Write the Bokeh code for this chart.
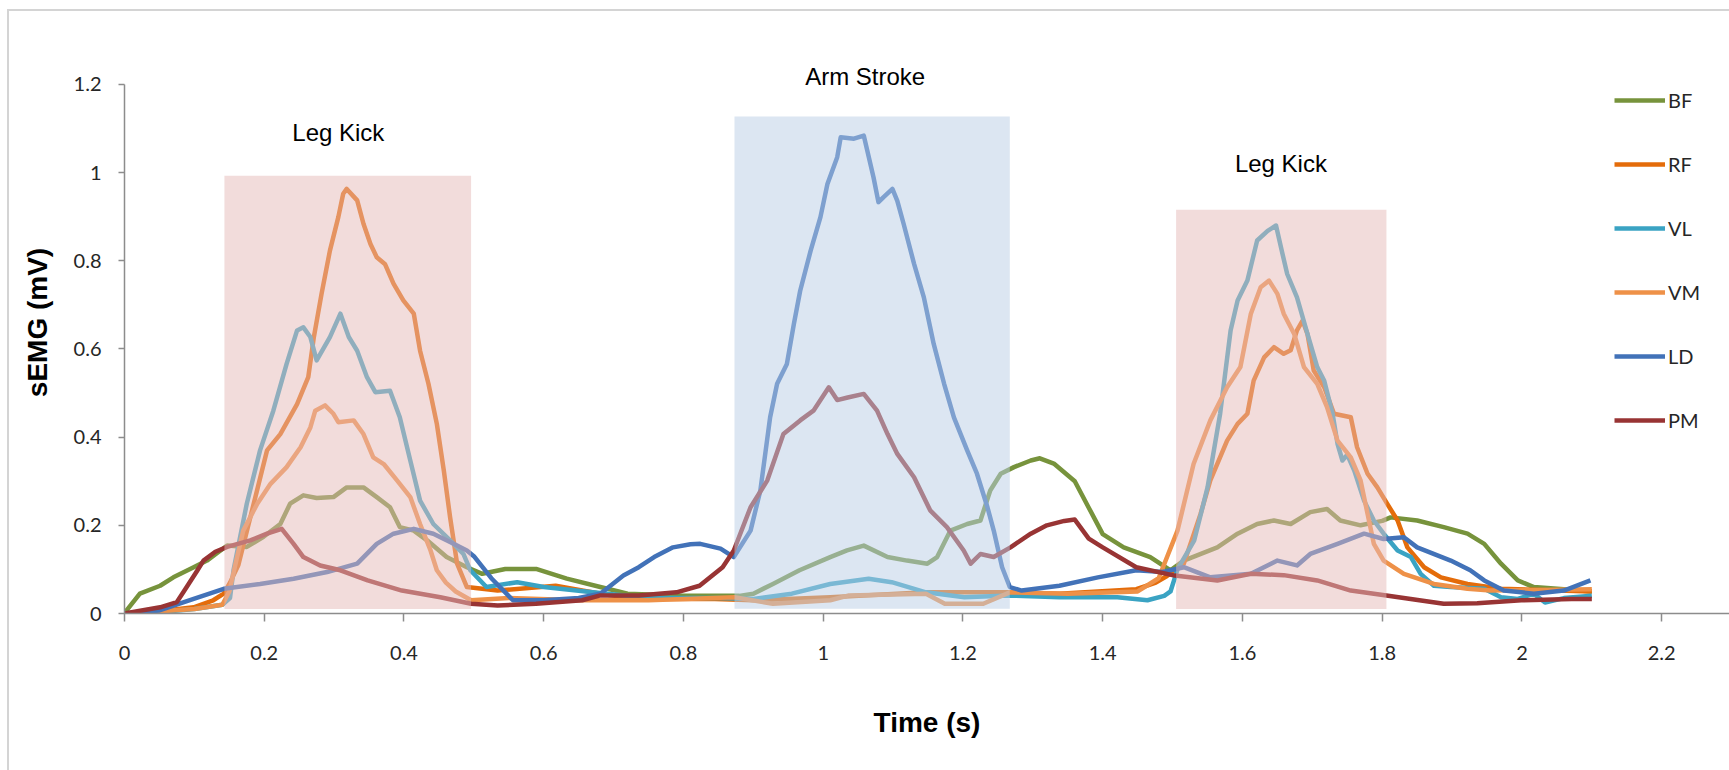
from bokeh.plotting import figure
from bokeh.models import Range1d, FixedTicker, Legend, LegendItem, Label
from bokeh.embed import file_html
from bokeh.resources import INLINE

# ---------------- data ----------------
SERIES = ["BF", "RF", "VL", "VM", "LD", "PM"]

BF_T = [0, 0.003, 0.022, 0.051, 0.07, 0.099, 0.118, 0.135, 0.147, 0.175, 0.199, 0.223, 0.237, 0.256,
        0.275, 0.299, 0.318, 0.342, 0.361, 0.38, 0.394, 0.414, 0.433, 0.461, 0.49, 0.512, 0.545, 0.589,
        0.633, 0.681, 0.72, 0.8, 0.88, 0.9, 0.928, 0.966, 1.01, 1.034, 1.058, 1.092, 1.12, 1.149, 1.163,
        1.182, 1.206, 1.225, 1.239, 1.254, 1.273, 1.297, 1.31, 1.33, 1.36, 1.38, 1.40, 1.43, 1.468, 1.497,
        1.516, 1.564, 1.593, 1.621, 1.645, 1.669, 1.697, 1.721, 1.74, 1.769, 1.80, 1.812, 1.85, 1.888,
        1.922, 1.946, 1.97, 1.994, 2.017, 2.06, 2.1]
BF_V = [0, 0.007, 0.045, 0.063, 0.082, 0.105, 0.12, 0.14, 0.154, 0.151, 0.174, 0.203, 0.249, 0.268,
        0.262, 0.264, 0.286, 0.286, 0.264, 0.241, 0.196, 0.188, 0.166, 0.128, 0.105, 0.09, 0.101, 0.101,
        0.079, 0.06, 0.045, 0.04, 0.04, 0.045, 0.067, 0.098, 0.128, 0.143, 0.154, 0.128, 0.12, 0.113, 0.128,
        0.188, 0.203, 0.211, 0.279, 0.317, 0.332, 0.347, 0.352, 0.34, 0.30, 0.24, 0.18, 0.15, 0.128, 0.098,
        0.12, 0.15, 0.181, 0.203, 0.211, 0.203, 0.23, 0.237, 0.211, 0.2, 0.21, 0.218, 0.211, 0.196,
        0.181, 0.158, 0.113, 0.075, 0.06, 0.055, 0.05]

RF_T = [0, 0.05, 0.099, 0.127, 0.142, 0.151, 0.163, 0.204, 0.223, 0.247, 0.263, 0.271, 0.282, 0.294,
        0.306, 0.313, 0.318, 0.333, 0.342, 0.352, 0.361, 0.373, 0.385, 0.399, 0.414, 0.423, 0.435, 0.447,
        0.457, 0.466, 0.476, 0.49, 0.534, 0.617, 0.681, 0.736, 0.845, 0.9, 1.01, 1.147, 1.267, 1.338,
        1.448, 1.476, 1.492, 1.516, 1.54, 1.554, 1.578, 1.593, 1.607, 1.616, 1.631, 1.645, 1.659, 1.669,
        1.678, 1.686, 1.693, 1.702, 1.717, 1.731, 1.755, 1.764, 1.779, 1.793, 1.807, 1.822, 1.836, 1.86,
        1.884, 1.922, 1.97, 2.1]
RF_V = [0, 0.005, 0.014, 0.03, 0.045, 0.07, 0.11, 0.37, 0.407, 0.475, 0.536, 0.627, 0.725, 0.823,
        0.899, 0.952, 0.963, 0.937, 0.884, 0.838, 0.808, 0.792, 0.748, 0.71, 0.68, 0.596, 0.521, 0.43,
        0.324, 0.218, 0.113, 0.06, 0.052, 0.063, 0.045, 0.033, 0.033, 0.03, 0.037, 0.048, 0.048, 0.045,
        0.055, 0.07, 0.085, 0.113, 0.226, 0.302, 0.392, 0.43, 0.453, 0.528, 0.581, 0.604, 0.589, 0.597,
        0.642, 0.664, 0.634, 0.551, 0.513, 0.453, 0.445, 0.377, 0.317, 0.286, 0.249, 0.211, 0.15, 0.105,
        0.082, 0.067, 0.056, 0.05]

VL_T = [0, 0.05, 0.1, 0.14, 0.151, 0.156, 0.175, 0.194, 0.213, 0.232, 0.247, 0.256, 0.266, 0.275,
        0.294, 0.309, 0.321, 0.333, 0.347, 0.359, 0.38, 0.394, 0.409, 0.423, 0.442, 0.466, 0.485, 0.495,
        0.518, 0.562, 0.6, 0.66, 0.75, 0.85, 0.9, 0.955, 1.01, 1.065, 1.098, 1.147, 1.202, 1.267, 1.338,
        1.421, 1.464, 1.488, 1.497, 1.507, 1.531, 1.55, 1.568, 1.583, 1.593, 1.607, 1.621, 1.636, 1.648,
        1.655, 1.664, 1.678, 1.693, 1.707, 1.717, 1.729, 1.736, 1.743, 1.75, 1.76, 1.774, 1.788, 1.802,
        1.822, 1.841, 1.855, 1.874, 1.898, 1.946, 1.97, 1.994, 2.017, 2.033, 2.06, 2.1]
VL_V = [0, 0.003, 0.01, 0.02, 0.035, 0.098, 0.249, 0.37, 0.46, 0.566, 0.642, 0.649, 0.627, 0.574,
        0.627, 0.68, 0.627, 0.596, 0.536, 0.502, 0.505, 0.445, 0.347, 0.256, 0.203, 0.166, 0.135, 0.098,
        0.06, 0.071, 0.06, 0.05, 0.035, 0.035, 0.033, 0.045, 0.067, 0.079, 0.071, 0.048, 0.037, 0.041, 0.037,
        0.037, 0.03, 0.04, 0.05, 0.1, 0.166, 0.286, 0.453, 0.642, 0.71, 0.755, 0.846, 0.868, 0.88,
        0.831, 0.77, 0.717, 0.634, 0.559, 0.528, 0.453, 0.385, 0.347, 0.36, 0.324, 0.256, 0.211, 0.181,
        0.143, 0.128, 0.09, 0.063, 0.06, 0.056, 0.037, 0.033, 0.045, 0.025, 0.035, 0.04]

VM_T = [0, 0.1, 0.14, 0.15, 0.16, 0.17, 0.19, 0.209, 0.232, 0.252, 0.266, 0.273, 0.287, 0.299, 0.306,
        0.328, 0.342, 0.356, 0.371, 0.39, 0.409, 0.423, 0.438, 0.447, 0.46, 0.474, 0.496, 0.55, 0.65,
        0.75, 0.873, 0.928, 1.01, 1.037, 1.147, 1.174, 1.229, 1.267, 1.35, 1.45, 1.48, 1.507, 1.53, 1.554,
        1.578, 1.597, 1.612, 1.626, 1.638, 1.65, 1.659, 1.674, 1.688, 1.707, 1.721, 1.736, 1.755, 1.769,
        1.779, 1.788, 1.802, 1.831, 1.874, 1.922, 1.955, 2.1]
VM_V = [0, 0.01, 0.02, 0.05, 0.12, 0.188, 0.249, 0.294, 0.332, 0.377, 0.422, 0.46, 0.472, 0.453, 0.434,
        0.438, 0.407, 0.354, 0.339, 0.302, 0.264, 0.203, 0.143, 0.098, 0.07, 0.05, 0.03, 0.035, 0.03,
        0.03, 0.037, 0.022, 0.03, 0.041, 0.045, 0.022, 0.022, 0.048, 0.045, 0.05, 0.08, 0.188, 0.339, 0.438,
        0.513, 0.559, 0.68, 0.74, 0.755, 0.725, 0.68, 0.634, 0.559, 0.521, 0.468, 0.392, 0.354, 0.302,
        0.226, 0.158, 0.12, 0.09, 0.067, 0.056, 0.052, 0.055]

LD_T = [0, 0.05, 0.099, 0.142, 0.194, 0.242, 0.29, 0.333, 0.361, 0.385, 0.414, 0.442, 0.471, 0.49,
        0.5, 0.525, 0.556, 0.6, 0.65, 0.681, 0.714, 0.736, 0.758, 0.785, 0.81, 0.824, 0.853, 0.872, 0.896,
        0.91, 0.924, 0.934, 0.948, 0.958, 0.967, 0.982, 0.996, 1.006, 1.02, 1.025, 1.044, 1.058, 1.063,
        1.072, 1.079, 1.086, 1.099, 1.106, 1.115, 1.13, 1.144, 1.158, 1.173, 1.187, 1.206, 1.22, 1.235,
        1.244, 1.256, 1.267, 1.284, 1.338, 1.393, 1.448, 1.486, 1.497, 1.516, 1.554, 1.612, 1.65, 1.678,
        1.697, 1.736, 1.774, 1.802, 1.831, 1.85, 1.898, 1.926, 1.946, 1.974, 2.017, 2.06, 2.098]
LD_V = [0, 0.007, 0.033, 0.056, 0.067, 0.079, 0.094, 0.113, 0.158, 0.181, 0.192, 0.181, 0.158, 0.143,
        0.13, 0.08, 0.03, 0.03, 0.035, 0.045, 0.086, 0.105, 0.128, 0.15, 0.157, 0.158, 0.147, 0.128, 0.188,
        0.279, 0.445, 0.521, 0.566, 0.657, 0.732, 0.823, 0.899, 0.974, 1.035, 1.08, 1.077, 1.084, 1.05,
        0.989, 0.933, 0.944, 0.963, 0.936, 0.884, 0.793, 0.717, 0.612, 0.521, 0.445, 0.37, 0.317, 0.241,
        0.188, 0.105, 0.06, 0.052, 0.063, 0.082, 0.098, 0.094, 0.098, 0.105, 0.082, 0.09, 0.12, 0.109,
        0.135, 0.158, 0.181, 0.169, 0.173, 0.15, 0.12, 0.098, 0.075, 0.052, 0.045, 0.052, 0.075]

PM_T = [0, 0.051, 0.075, 0.089, 0.104, 0.113, 0.13, 0.147, 0.18, 0.204, 0.225, 0.242, 0.256, 0.28,
        0.309, 0.348, 0.397, 0.452, 0.496, 0.534, 0.589, 0.655, 0.681, 0.736, 0.79, 0.823, 0.856, 0.872,
        0.896, 0.92, 0.943, 0.967, 0.986, 1.008, 1.02, 1.035, 1.058, 1.077, 1.092, 1.106, 1.13, 1.153,
        1.177, 1.201, 1.211, 1.225, 1.244, 1.268, 1.297, 1.32, 1.345, 1.36, 1.38, 1.4, 1.448, 1.503,
        1.564, 1.612, 1.659, 1.707, 1.755, 1.806, 1.888, 1.936, 1.999, 2.071, 2.1]
PM_V = [0, 0.014, 0.026, 0.06, 0.097, 0.12, 0.14, 0.151, 0.166, 0.181, 0.192, 0.158, 0.128, 0.109,
        0.098, 0.075, 0.052, 0.037, 0.022, 0.018, 0.022, 0.03, 0.041, 0.041, 0.048, 0.063, 0.105, 0.143,
        0.241, 0.302, 0.407, 0.438, 0.46, 0.513, 0.484, 0.49, 0.498, 0.46, 0.407, 0.362, 0.309, 0.234,
        0.196, 0.143, 0.113, 0.135, 0.128, 0.15, 0.181, 0.2, 0.21, 0.213, 0.17, 0.15, 0.105, 0.086,
        0.075, 0.09, 0.087, 0.075, 0.052, 0.041, 0.022, 0.023, 0.03, 0.033, 0.033]

BOX_LEFT = [0.143, 0.873, 1.505]
BOX_RIGHT = [0.496, 1.267, 1.806]
BOX_BOTTOM = [0.01, 0.011, 0.01]
BOX_TOP = [0.993, 1.127, 0.916]

ANNOT_TEXT = ["Leg Kick", "Arm Stroke", "Leg Kick"]
ANNOT_X = [0.306, 1.06, 1.655]
ANNOT_Y = [1.09, 1.218, 1.02]

X_TICKS = [0, 0.2, 0.4, 0.6, 0.8, 1, 1.2, 1.4, 1.6, 1.8, 2, 2.2]
X_LABELS = ["0", "0.2", "0.4", "0.6", "0.8", "1", "1.2", "1.4", "1.6", "1.8", "2", "2.2"]
Y_TICKS = [0, 0.2, 0.4, 0.6, 0.8, 1, 1.2]
Y_LABELS = ["0", "0.2", "0.4", "0.6", "0.8", "1", "1.2"]

# ---------------- styling ----------------
COLORS = {"BF": "#77933C", "RF": "#E46C0A", "VL": "#3AA3C3",
          "VM": "#EE9148", "LD": "#4272B8", "PM": "#983434"}
BOX_COLORS = ["#E6B9B8", "#B9CDE5", "#E6B9B8"]
DATA = {"BF": (BF_T, BF_V), "RF": (RF_T, RF_V), "VL": (VL_T, VL_V),
        "VM": (VM_T, VM_V), "LD": (LD_T, LD_V), "PM": (PM_T, PM_V)}

BORDER = "#D4D4D4"
p = figure(width=1729, height=770, output_backend="svg", toolbar_location=None,
           x_range=Range1d(0, 2.297), y_range=Range1d(0, 1.32),
           min_border_left=124, min_border_right=0, min_border_top=31, min_border_bottom=157,
           styles={"background": (f"linear-gradient({BORDER},{BORDER}) 7px 9px / 2px 100% no-repeat, "
                                  f"linear-gradient({BORDER},{BORDER}) 7px 9px / 100% 2px no-repeat, white")})
p.outline_line_color = None
p.xgrid.visible = False
p.ygrid.visible = False
p.background_fill_alpha = 0
p.border_fill_alpha = 0

items = []
for name in SERIES:
    t, v = DATA[name]
    r = p.line(t, v, line_color=COLORS[name], line_width=4.5, line_join="round")
    items.append(LegendItem(label=name, renderers=[r]))

# translucent phase boxes drawn over the traces
p.quad(left=BOX_LEFT, right=BOX_RIGHT, bottom=BOX_BOTTOM, top=BOX_TOP,
       fill_color=BOX_COLORS, fill_alpha=0.5, line_color=None)

for txt, x, y in zip(ANNOT_TEXT, ANNOT_X, ANNOT_Y):
    p.add_layout(Label(x=x, y=y, text=txt, text_align="center", text_baseline="middle",
                       text_font="Liberation Sans", text_font_size="24px", text_color="#000000"))

AXIS_COLOR = "#8C8C8C"
for ax in (p.xaxis[0], p.yaxis[0]):
    ax.axis_line_color = AXIS_COLOR
    ax.axis_line_width = 1.5
    ax.major_tick_line_color = AXIS_COLOR
    ax.major_tick_line_width = 1.5
    ax.major_tick_in = 0
    ax.minor_tick_line_color = None
    ax.major_label_text_font = "Lato"
    ax.major_label_text_font_size = "20px"
    ax.major_label_text_color = "#262626"
    ax.axis_label_text_font = "Liberation Sans"
    ax.axis_label_text_font_style = "bold"
    ax.axis_label_text_font_size = "28px"
    ax.axis_label_text_color = "#000000"

p.xaxis.ticker = FixedTicker(ticks=X_TICKS)
p.xaxis.major_label_overrides = dict(zip(X_TICKS, X_LABELS))
p.xaxis.major_tick_out = 8
p.xaxis.major_label_standoff = 24
p.xaxis.axis_label = "Time (s)"
p.xaxis.axis_label_standoff = 44

p.yaxis.ticker = FixedTicker(ticks=Y_TICKS)
p.yaxis.major_label_overrides = dict(zip(Y_TICKS, Y_LABELS))
p.yaxis.bounds = (0, 1.2)
p.yaxis.major_tick_out = 6
p.yaxis.major_label_standoff = 17
p.yaxis.axis_label = "sEMG (mV)"
p.yaxis.axis_label_standoff = 18

legend = Legend(items=items, location=(1490, 181), orientation="vertical",
                glyph_width=51, glyph_height=24, label_height=24, spacing=40,
                label_standoff=3, padding=0, margin=0,
                label_text_font="Lato", label_text_font_size="20px", label_text_color="#262626",
                border_line_color=None, background_fill_alpha=0)
p.add_layout(legend)

open("out.html", "w").write(file_html(p, INLINE))
